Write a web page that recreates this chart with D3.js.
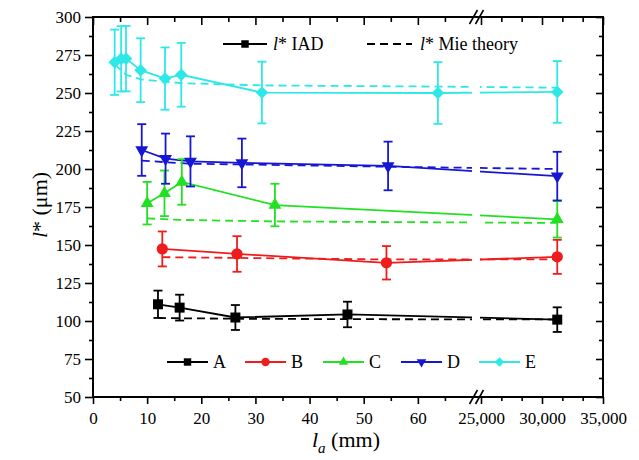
<!DOCTYPE html>
<html>
<head>
<meta charset="utf-8">
<script src="https://cdn.jsdelivr.net/npm/d3@7"></script>
<style>
  body { margin: 0; background: #fff; }
</style>
</head>
<body>
<div id="d3-container"></div>
<script>
/* CONSTANTS AND GLOBALS */
const width = 639,
  height = 460,
  margin = { top: 17, bottom: 63, left: 93, right: 36 },
  breakLeft = 472,
  breakRight = 481,
  serif = "Liberation Serif, DejaVu Serif, serif";

/* DATA */
// l_a in mm (values > 25,000 sit on the right side of the axis break)
const laA = [12.0, 16.0, 26.3, 47.0, 31250];
const iadA = [111, 108.8, 102.3, 104.3, 100.9];
const errA = [9, 8.5, 8.2, 8.4, 8.1];
const mieA = [102, 101.8, 101.5, 101.2, 101];

const laB = [12.8, 26.6, 54.2, 31250];
const iadB = [147.4, 144.1, 138.3, 142.2];
const errB = [11.5, 11.7, 11, 11.2];
const mieB = [142, 141.5, 140.5, 140.6];

const laC = [10.0, 13.2, 16.4, 33.6, 31250];
const iadC = [177.5, 184, 191.5, 176.3, 166.9];
const errC = [14, 15, 15, 14, 12];
const mieC = [167.5, 167, 166.5, 165.5, 164.5];

const laD = [9.0, 13.4, 18.0, 27.5, 54.5, 31250];
const iadD = [212.5, 206.8, 205, 204, 202, 195.3];
const errD = [17, 16.5, 16.5, 16, 16, 16];
const mieD = [205.5, 204.5, 203.5, 203, 201.5, 200];

const laE = [4.0, 5.2, 6.1, 8.8, 13.3, 16.3, 31.2, 63.7, 31250];
const iadE = [270.2, 272.5, 272.6, 265, 259.5, 262, 250.3, 250, 250.7];
const errE = [21.5, 21.5, 21.5, 21, 20.5, 21, 20.3, 20.3, 20.3];
const mieE = [269, 265, 262, 259, 257.5, 256.5, 255, 254.2, 253.5];

const seriesNames = ["A", "B", "C", "D", "E"];
const yTicks = [50, 75, 100, 125, 150, 175, 200, 225, 250, 275, 300];
const xTicksLeft = [0, 10, 20, 30, 40, 50, 60];
const xMinorLeft = [5, 15, 25, 35, 45, 55, 65];
const xTicksRight = [25000, 30000, 35000];
const xMinorRight = [26667, 28333, 31667, 33333];

// styles per series
const colors = ["#000000", "#ee1c1c", "#22e022", "#1616d4", "#2ee8e8"];
const symbols = [
  { type: d3.symbolSquare, size: 100, rot: 0 },
  { type: d3.symbolCircle, size: 100, rot: 0 },
  { type: d3.symbolTriangle, size: 72, rot: 0 },
  { type: d3.symbolTriangle, size: 72, rot: 180 },
  { type: d3.symbolSquare, size: 80, rot: 45 },
];

const raw = [
  [laA, iadA, errA, mieA],
  [laB, iadB, errB, mieB],
  [laC, iadC, errC, mieC],
  [laD, iadD, errD, mieD],
  [laE, iadE, errE, mieE],
];

const series = raw.map(([la, iad, err, mie], i) => ({
  name: seriesNames[i],
  color: colors[i],
  symbol: symbols[i],
  values: la.map((l, j) => ({ la: l, iad: iad[j], err: err[j], mie: mie[j] })),
}));

/* SCALES */
const xLeft = d3.scaleLinear().domain([0, 70]).range([margin.left, breakLeft]);
const xRight = d3.scaleLinear().domain([25000, 35000]).range([breakRight, width - margin.right]);
const x = v => (v < 1000 ? xLeft(v) : xRight(v));
const yScale = d3.scaleLinear().domain([50, 300]).range([height - margin.bottom, margin.top]);
const yMinor = d3.range(62.5, 300, 25);

const svg = d3
  .select("#d3-container")
  .append("svg")
  .attr("width", width)
  .attr("height", height)
  .style("font-family", serif);

/* DATA LINES */
const mieLine = d3.line().x(d => x(d.la)).y(d => yScale(d.mie));
const iadLine = d3.line().x(d => x(d.la)).y(d => yScale(d.iad));

const plot = svg.append("g").attr("class", "plot");

plot
  .selectAll("path.mie")
  .data(series)
  .join("path")
  .attr("class", "mie")
  .attr("fill", "none")
  .attr("stroke", d => d.color)
  .attr("stroke-width", 1.8)
  .attr("stroke-dasharray", "8,5")
  .attr("d", d => mieLine(d.values));

plot
  .selectAll("path.iad")
  .data(series)
  .join("path")
  .attr("class", "iad")
  .attr("fill", "none")
  .attr("stroke", d => d.color)
  .attr("stroke-width", 1.8)
  .attr("d", d => iadLine(d.values));

// white strip where the axis breaks
plot
  .append("rect")
  .attr("x", breakLeft)
  .attr("y", margin.top + 1)
  .attr("width", breakRight - breakLeft - 1)
  .attr("height", yScale(50) - margin.top - 2)
  .attr("fill", "#fff");

/* ERROR BARS AND MARKERS */
const groups = plot
  .selectAll("g.series")
  .data(series)
  .join("g")
  .attr("class", "series")
  .attr("stroke", d => d.color)
  .attr("fill", d => d.color);

const bars = groups
  .selectAll("g.err")
  .data(d => d.values)
  .join("g")
  .attr("class", "err")
  .attr("stroke-width", 1.8);

bars
  .append("line")
  .attr("x1", d => x(d.la))
  .attr("x2", d => x(d.la))
  .attr("y1", d => yScale(d.iad - d.err))
  .attr("y2", d => yScale(d.iad + d.err));

[-1, 1].forEach(s => {
  bars
    .append("line")
    .attr("x1", d => x(d.la) - 4.5)
    .attr("x2", d => x(d.la) + 4.5)
    .attr("y1", d => yScale(d.iad + s * d.err))
    .attr("y2", d => yScale(d.iad + s * d.err));
});

groups.each(function(s) {
  d3.select(this)
    .selectAll("path.dot")
    .data(s.values)
    .join("path")
    .attr("class", "dot")
    .attr("stroke", "none")
    .attr("d", d3.symbol(s.symbol.type, s.symbol.size))
    .attr("transform", d => `translate(${x(d.la)},${yScale(d.iad)}) rotate(${s.symbol.rot})`);
});

/* AXES */
function styleAxis(g) {
  g.attr("font-family", null).style("font-family", serif);
  g.select(".domain").remove();
  g.selectAll(".tick line").attr("stroke", "#000").attr("stroke-width", 1.6);
  g.selectAll(".tick text").attr("font-size", 17).attr("fill", "#000");
}

const yBase = yScale(50);
const xRightEdge = width - margin.right;

// bottom
svg.append("g").attr("transform", `translate(0,${yBase})`)
  .call(d3.axisBottom(xLeft).tickValues(xTicksLeft).tickSize(7).tickPadding(8))
  .call(styleAxis);
svg.append("g").attr("transform", `translate(0,${yBase})`)
  .call(d3.axisBottom(xLeft).tickValues(xMinorLeft).tickSize(4).tickFormat(""))
  .call(styleAxis);
svg.append("g").attr("transform", `translate(0,${yBase})`)
  .call(d3.axisBottom(xRight).tickValues(xTicksRight).tickSize(7).tickPadding(8).tickFormat(d3.format(",")))
  .call(styleAxis);
svg.append("g").attr("transform", `translate(0,${yBase})`)
  .call(d3.axisBottom(xRight).tickValues(xMinorRight).tickSize(4).tickFormat(""))
  .call(styleAxis);

// top (ticks inward)
svg.append("g").attr("transform", `translate(0,${margin.top})`)
  .call(d3.axisTop(xLeft).tickValues(xTicksLeft).tickSize(-8).tickFormat(""))
  .call(styleAxis);
svg.append("g").attr("transform", `translate(0,${margin.top})`)
  .call(d3.axisTop(xLeft).tickValues(xMinorLeft).tickSize(-5).tickFormat(""))
  .call(styleAxis);
svg.append("g").attr("transform", `translate(0,${margin.top})`)
  .call(d3.axisTop(xRight).tickValues(xTicksRight).tickSize(-8).tickFormat(""))
  .call(styleAxis);
svg.append("g").attr("transform", `translate(0,${margin.top})`)
  .call(d3.axisTop(xRight).tickValues(xMinorRight).tickSize(-5).tickFormat(""))
  .call(styleAxis);

// left
svg.append("g").attr("transform", `translate(${margin.left},0)`)
  .call(d3.axisLeft(yScale).tickValues(yTicks).tickSize(8).tickPadding(4))
  .call(styleAxis);
svg.append("g").attr("transform", `translate(${margin.left},0)`)
  .call(d3.axisLeft(yScale).tickValues(yMinor).tickSize(4).tickFormat(""))
  .call(styleAxis);

// right (ticks inward)
svg.append("g").attr("transform", `translate(${xRightEdge},0)`)
  .call(d3.axisRight(yScale).tickValues(yTicks).tickSize(-7).tickFormat(""))
  .call(styleAxis);
svg.append("g").attr("transform", `translate(${xRightEdge},0)`)
  .call(d3.axisRight(yScale).tickValues(yMinor).tickSize(-4).tickFormat(""))
  .call(styleAxis);

// frame
svg.append("rect")
  .attr("x", margin.left)
  .attr("y", margin.top)
  .attr("width", xRightEdge - margin.left)
  .attr("height", yBase - margin.top)
  .attr("fill", "none")
  .attr("stroke", "#000")
  .attr("stroke-width", 2);

// break marks "//"
[margin.top, yBase].forEach(yy => {
  [-3, 3].forEach(dx => {
    const cx = (breakLeft + breakRight) / 2 + dx;
    svg.append("line")
      .attr("x1", cx - 4).attr("y1", yy + 7)
      .attr("x2", cx + 4).attr("y2", yy - 7)
      .attr("stroke", "#000").attr("stroke-width", 1.6);
  });
});

/* AXIS TITLES */
const yTitle = svg.append("text")
  .attr("transform", `translate(47,${(margin.top + yBase) / 2 - 2}) rotate(-90)`)
  .attr("text-anchor", "middle")
  .attr("font-size", 22);
yTitle.append("tspan").attr("font-style", "italic").text("l");
yTitle.append("tspan").text("* (μm)");

const xTitle = svg.append("text")
  .attr("x", (margin.left + xRightEdge) / 2 - 2)
  .attr("y", 447)
  .attr("text-anchor", "middle")
  .attr("font-size", 22);
xTitle.append("tspan").attr("font-style", "italic").text("l");
xTitle.append("tspan").attr("font-size", 15).attr("font-style", "italic").attr("dy", 6).text("a");
xTitle.append("tspan").attr("dy", -6).text(" (mm)");

/* LEGENDS */
// method legend (top)
const topLeg = svg.append("g");
topLeg.append("line").attr("x1", 223).attr("x2", 267).attr("y1", 44).attr("y2", 44)
  .attr("stroke", "#000").attr("stroke-width", 1.8);
topLeg.append("path").attr("d", d3.symbol(d3.symbolSquare, 56))
  .attr("transform", "translate(245,44)").attr("fill", "#000");
const t1 = topLeg.append("text").attr("x", 273).attr("y", 50).attr("font-size", 18);
t1.append("tspan").attr("font-style", "italic").text("l");
t1.append("tspan").text("*  IAD");

topLeg.append("line").attr("x1", 367).attr("x2", 412).attr("y1", 44).attr("y2", 44)
  .attr("stroke", "#000").attr("stroke-width", 1.8).attr("stroke-dasharray", "8,5");
const t2 = topLeg.append("text").attr("x", 420).attr("y", 50).attr("font-size", 18);
t2.append("tspan").attr("font-style", "italic").text("l");
t2.append("tspan").text("* Mie theory");

// sample legend (bottom)
const legY = 362;
const leg = svg.append("g")
  .selectAll("g")
  .data(series)
  .join("g")
  .attr("transform", (d, i) => `translate(${167 + i * 78},${legY})`);

leg.append("line").attr("x1", 0).attr("x2", 41)
  .attr("stroke", d => d.color).attr("stroke-width", 1.8);
leg.append("path")
  .attr("d", d => d3.symbol(d.symbol.type, d.symbol.size * 0.55)())
  .attr("transform", d => `translate(20.5,0) rotate(${d.symbol.rot})`)
  .attr("fill", d => d.color);
leg.append("text").attr("x", 46).attr("y", 6).attr("font-size", 18).text(d => d.name);
</script>
</body>
</html>
